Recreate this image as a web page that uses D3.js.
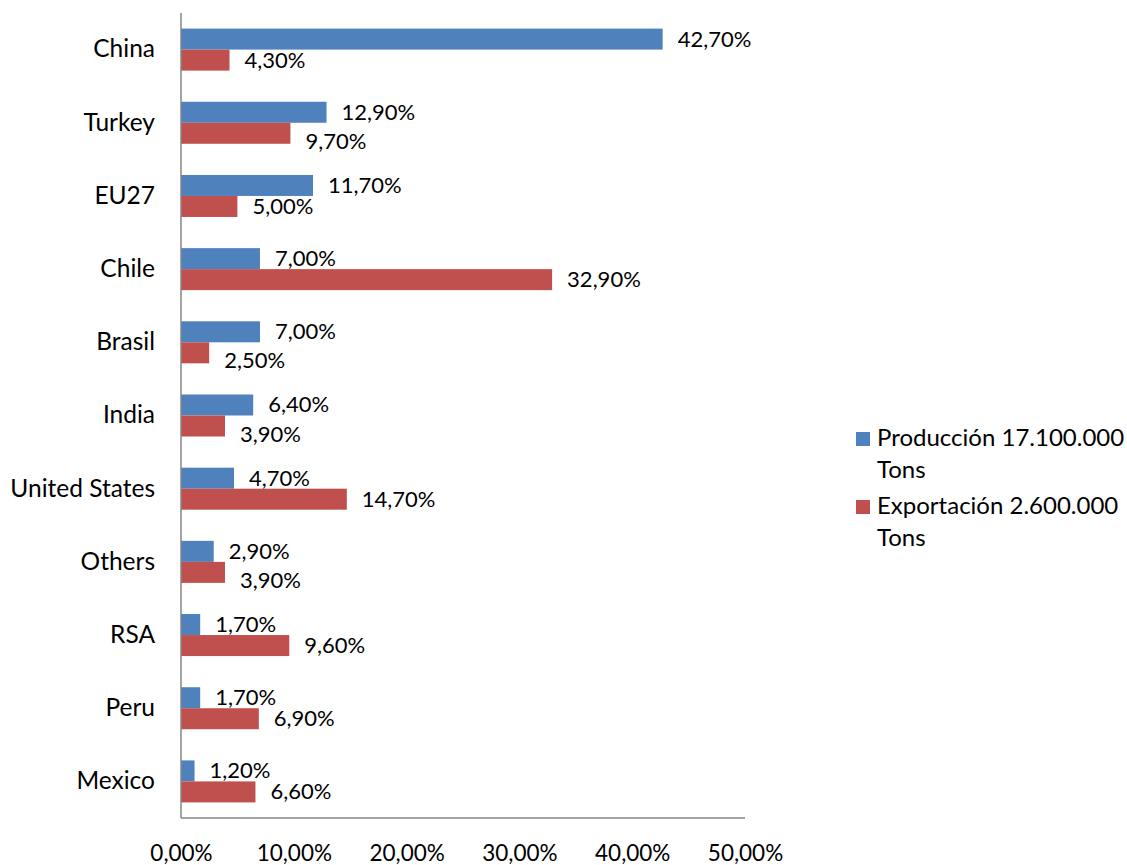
<!DOCTYPE html>
<html><head><meta charset="utf-8">
<script src="https://cdn.jsdelivr.net/npm/d3@7"></script>
<style>body{margin:0;background:#fff}svg{display:block}text{font-family:Lato,"Open Sans",sans-serif;fill:#000}</style>
</head><body>
<svg id="c" width="1127" height="865"></svg>
<script>
const categories = ["China","Turkey","EU27","Chile","Brasil","India","United States","Others","RSA","Peru","Mexico"];
const produccion = [42.7,12.9,11.7,7.0,7.0,6.4,4.7,2.9,1.7,1.7,1.2];
const exportacion = [4.3,9.7,5.0,32.9,2.5,3.9,14.7,3.9,9.6,6.9,6.6];
const seriesNames = ["Producción 17.100.000 Tons","Exportación 2.600.000 Tons"];
const legendLines = [["Producción 17.100.000","Tons"],["Exportación 2.600.000","Tons"]];
const colors = ["#4F81BD","#C0504D"];
const xTicks = [0,10,20,30,40,50];

const fmt = v => v.toFixed(2).replace(".", ",") + "%";
const svg = d3.select("#c");
const x = d3.scaleLinear().domain([0,50]).range([181,745]);
const y = d3.scaleBand().domain(categories).range([13,818]).paddingInner(0.426).paddingOuter(0.213);
const sub = d3.scaleBand().domain([0,1]).range([0,y.bandwidth()]);
const data = [produccion, exportacion];

categories.forEach((c,i)=>{
  const labels = [];
  data.forEach((arr,s)=>{
    const y0 = y(c)+sub(s);
    svg.append("rect").attr("x",x(0)).attr("y",y0).attr("width",x(arr[i])-x(0)).attr("height",sub.bandwidth())
      .attr("fill",colors[s]);
    labels.push(svg.append("text").attr("x",x(arr[i])+15).attr("y",y0+sub.bandwidth()/2+7.5)
      .attr("font-size",22).text(fmt(arr[i])));
  });
  // avoid overlap like Excel: push the lower label down if horizontally overlapping
  const b0 = labels[0].node().getBBox(), b1 = labels[1].node().getBBox();
  if (b1.x < b0.x + b0.width - 6 && b0.x < b1.x + b1.width - 6) {
    labels[1].attr("y", +labels[1].attr("y") + 8);
  }
});

// axes
const axisColor = "#868686";
svg.append("line").attr("x1",x(0)).attr("x2",x(0)).attr("y1",13).attr("y2",818).attr("stroke",axisColor).attr("stroke-width",1.5);
svg.append("line").attr("x1",x(0)).attr("x2",x(50)).attr("y1",818).attr("y2",818).attr("stroke",axisColor).attr("stroke-width",1.5);

const xa = svg.append("g").attr("transform","translate(0,818)").call(d3.axisBottom(x).tickValues(xTicks).tickSize(0).tickPadding(27).tickFormat(fmt));
xa.select(".domain").remove();
xa.selectAll("text").attr("font-size",22.5).attr("font-family","Lato").attr("fill","#000");

const ya = svg.append("g").attr("transform",`translate(${x(0)},0)`).call(d3.axisLeft(y).tickSize(0).tickPadding(26));
ya.select(".domain").remove();
ya.selectAll("text").attr("font-size",24.5).attr("font-family","Lato").attr("fill","#000");

// legend
const lg = svg.append("g");
const legY = [432, 500];
seriesNames.forEach((n,s)=>{
  lg.append("rect").attr("x",856).attr("y",legY[s]).attr("width",14).attr("height",14).attr("fill",colors[s]);
  legendLines[s].forEach((l,k)=>{
    lg.append("text").attr("x",877).attr("y",legY[s]+14+k*32).attr("font-size",24).text(l);
  });
});
</script>
</body></html>
